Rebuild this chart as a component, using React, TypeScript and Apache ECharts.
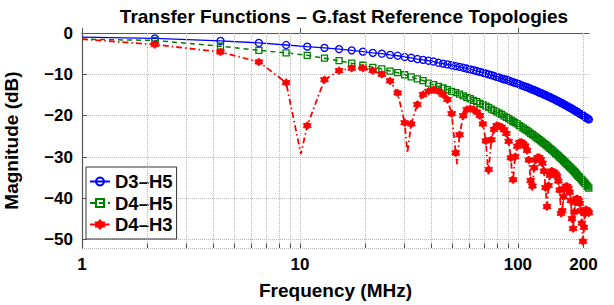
import React, { useEffect, useRef } from "react";
import * as echarts from "echarts";

// Frequencies (MHz) of the plotted markers
const freqMHz = [
  2.16, 4.32, 6.48, 8.64, 10.8, 12.96, 15.12, 17.28, 19.44, 21.6,
  23.76, 25.92, 28.08, 30.24, 32.4, 34.56, 36.72, 38.88, 41.04, 43.2,
  45.36, 47.52, 49.68, 51.84, 54.0, 56.16, 58.32, 60.48, 62.64, 64.8,
  66.96, 69.12, 71.28, 73.44, 75.6, 77.76, 79.92, 82.08, 84.24, 86.4,
  88.56, 90.72, 92.88, 95.04, 97.2, 99.36, 101.52, 103.68, 105.84, 108.0,
  110.16, 112.32, 114.48, 116.64, 118.8, 120.96, 123.12, 125.28, 127.44, 129.6,
  131.76, 133.92, 136.08, 138.24, 140.4, 142.56, 144.72, 146.88, 149.04, 151.2,
  153.36, 155.52, 157.68, 159.84, 162.0, 164.16, 166.32, 168.48, 170.64, 172.8,
  174.96, 177.12, 179.28, 181.44, 183.6, 185.76, 187.92, 190.08, 192.24, 194.4,
  196.56, 198.72, 200.88, 203.04, 205.2, 207.36, 209.52, 211.68,
];

// Value at the left edge (1 MHz), drawn without a marker
const startFreq = 1;
const d3h5Start = -1.0;
const d4h5Start = -1.5;
const d4h3Start = -1.5;

const d3h5 = [
  -1.3, -1.9, -2.4, -2.9, -3.3, -3.6, -3.9, -4.2, -4.5, -4.8,
  -5.0, -5.3, -5.5, -5.8, -6.0, -6.3, -6.5, -6.7, -6.9, -7.2,
  -7.4, -7.6, -7.8, -8.0, -8.2, -8.4, -8.6, -8.8, -9.0, -9.2,
  -9.4, -9.6, -9.8, -10.0, -10.2, -10.4, -10.6, -10.8, -11.0, -11.2,
  -11.3, -11.5, -11.7, -11.9, -12.1, -12.2, -12.4, -12.6, -12.8, -13.0,
  -13.1, -13.3, -13.5, -13.7, -13.8, -14.0, -14.2, -14.4, -14.5, -14.7,
  -14.9, -15.0, -15.2, -15.4, -15.5, -15.7, -15.9, -16.0, -16.2, -16.4,
  -16.5, -16.7, -16.9, -17.0, -17.2, -17.4, -17.5, -17.7, -17.9, -18.0,
  -18.2, -18.3, -18.5, -18.7, -18.8, -19.0, -19.1, -19.3, -19.5, -19.6,
  -19.8, -19.9, -20.1, -20.3, -20.4, -20.6, -20.7, -20.9,
];

const d4h5 = [
  -1.8, -3.2, -4.2, -4.8, -5.4, -6.1, -6.7, -7.3, -7.8, -8.3,
  -8.7, -9.2, -9.6, -10.1, -10.6, -11.1, -11.5, -12.1, -12.5, -12.9,
  -13.3, -13.7, -14.1, -14.4, -14.8, -15.2, -15.6, -15.9, -16.3, -16.6,
  -17.0, -17.3, -17.7, -18.0, -18.4, -18.7, -19.1, -19.4, -19.7, -20.1,
  -20.4, -20.7, -21.1, -21.4, -21.7, -22.0, -22.4, -22.7, -23.0, -23.3,
  -23.6, -23.9, -24.3, -24.6, -24.9, -25.2, -25.5, -25.8, -26.1, -26.4,
  -26.7, -27.0, -27.3, -27.6, -27.9, -28.2, -28.5, -28.8, -29.1, -29.4,
  -29.7, -30.0, -30.3, -30.6, -30.9, -31.2, -31.5, -31.8, -32.1, -32.4,
  -32.6, -32.9, -33.2, -33.5, -33.8, -34.1, -34.4, -34.7, -34.9, -35.2,
  -35.5, -35.8, -36.1, -36.3, -36.6, -36.9, -37.2, -37.5,
];

const d4h3 = [
  -2.8, -4.6, -7.0, -12.0, -22.4, -11.3, -9.1, -8.5, -8.5, -9.1,
  -10.0, -11.6, -14.5, -21.7, -22.0, -17.3, -14.9, -14.1, -13.7, -14.1,
  -14.9, -16.1, -19.5, -29.0, -24.6, -20.0, -18.5, -18.3, -18.5, -19.1,
  -20.0, -22.0, -26.1, -33.0, -25.8, -23.3, -22.4, -22.5, -22.8, -23.4,
  -24.3, -26.2, -30.2, -35.5, -29.9, -27.4, -26.5, -26.4, -26.8, -27.3,
  -28.4, -30.7, -35.7, -37.0, -32.6, -30.7, -30.1, -30.1, -30.6, -31.5,
  -33.4, -37.4, -42.0, -36.9, -34.4, -33.4, -33.5, -33.8, -34.1, -34.6,
  -35.8, -38.0, -43.6, -43.0, -39.6, -37.6, -37.1, -37.1, -37.6, -38.5,
  -40.5, -44.9, -47.3, -43.3, -41.0, -40.1, -40.1, -40.5, -41.2, -43.0,
  -46.0, -50.4, -47.0, -43.7, -42.7, -42.9, -43.2, -43.5,
];

// Notch minima of D4-H3 that fall between markers (line only)
const d4h3NotchFreq = [10.1, 31.1, 52.6, 73.2, 94.8, 115.9, 158.9];
const d4h3NotchVal = [-29.3, -29.0, -31.7, -34.2, -36.4, -38.3, -44.4];

// Vertical grid lines / minor ticks of the log axis, and the extra "200" label
const xGridLines = [2, 3, 4, 5, 6, 7, 8, 9, 10, 20, 30, 40, 50, 60, 70, 80, 90, 100, 200];
const xExtraLabel = 200;

const FONT = "'Liberation Sans', Arial, Helvetica, sans-serif";
const ASTERISK =
  "path://M0,-10L3.3,-5.7L8.66,-5L6.6,0L8.66,5L3.3,5.7L0,10L-3.3,5.7L-8.66,5L-6.6,0L-8.66,-5L-3.3,-5.7Z";

function buildData(vals: number[], startVal: number, extraF: number[] = [], extraV: number[] = []) {
  const pts: any[] = [{ value: [startFreq, startVal], symbol: "none" }];
  freqMHz.forEach((f, i) => pts.push({ value: [f, vals[i]] }));
  extraF.forEach((f, i) => pts.push({ value: [f, extraV[i]], symbol: "none" }));
  pts.sort((a, b) => a.value[0] - b.value[0]);
  return pts;
}

export default function App() {
  const ref = useRef<HTMLDivElement>(null);
  useEffect(() => {
    if (!ref.current) return;
    const chart = echarts.init(ref.current, null, { renderer: "svg" });
    const bold = { fontFamily: FONT, fontWeight: "bold" as const, color: "#000" };
    const Y_MIN = -52;
    chart.setOption({
      animation: false,
      backgroundColor: "#fff",
      title: {
        text: "Transfer Functions – G.fast Reference Topologies",
        left: 339,
        top: 2,
        textAlign: "center",
        textStyle: { ...bold, fontSize: 19 },
      },
      grid: { left: 82, right: 25, top: 33, bottom: 57, outerBoundsMode: "none", containLabel: false },
      legend: {
        orient: "vertical",
        left: 86,
        top: 167,
        data: ["D3–H5", "D4–H5", "D4–H3"],
        backgroundColor: "#fff",
        borderColor: "#333",
        borderWidth: 1,
        borderRadius: 0,
        padding: [5, 4, 5, 3],
        itemGap: 2.5,
        itemWidth: 20,
        itemHeight: 10,
        textStyle: { ...bold, fontSize: 18.5 },
      },
      xAxis: {
        type: "log",
        logBase: 10,
        min: 1,
        max: 212,
        name: "Frequency (MHz)",
        nameLocation: "middle",
        nameGap: 33,
        nameTextStyle: { ...bold, fontSize: 19 },
        axisLine: { show: true, lineStyle: { color: "#555", width: 1.2 } },
        axisTick: { show: true, inside: true, length: 5, lineStyle: { color: "#555" } },
        axisLabel: {
          ...bold,
          fontSize: 17,
          margin: 8,
          showMaxLabel: false,
          formatter: (v: number) => String(Math.round(v)),
        },
        splitLine: { show: false },
      },
      yAxis: {
        type: "value",
        min: Y_MIN,
        max: 0,
        name: "Magnitude (dB)",
        nameLocation: "middle",
        nameGap: 61,
        nameTextStyle: { ...bold, fontSize: 19 },
        axisLine: { show: true, lineStyle: { color: "#555", width: 1.2 } },
        axisTick: { show: true, inside: true, length: 5, lineStyle: { color: "#555" } },
        axisLabel: {
          ...bold,
          fontSize: 17,
          margin: 9,
          showMinLabel: false,
          formatter: (v: number) =>
            v % 10 !== 0 ? "" : v === 0 ? "0" : "\u2212" + Math.abs(v),
        },
        splitLine: { show: true, lineStyle: { color: "#b8b8b8", type: "dotted", width: 1 } },
      },
      series: [
        {
          name: "grid",
          type: "line",
          data: [[startFreq, 0]],
          symbol: "none",
          lineStyle: { opacity: 0 },
          z: 1,
          silent: true,
          markLine: {
            silent: true,
            symbol: ["none", "none"],
            animation: false,
            lineStyle: { color: "#b8b8b8", type: "dotted", width: 1 },
            label: { show: false },
            emphasis: { disabled: true },
            data: [
              ...xGridLines.map((v) =>
                v === xExtraLabel
                  ? {
                      xAxis: v,
                      label: {
                        show: true,
                        position: "start",
                        formatter: String(xExtraLabel),
                        ...bold,
                        fontSize: 17,
                        distance: 8,
                      },
                    }
                  : { xAxis: v }
              ),
              ...xGridLines.map((v) => [
                { coord: [v, Y_MIN], lineStyle: { color: "#555", type: "solid", width: 1 } },
                { coord: [v, Y_MIN + 1.1] },
              ]),
            ],
          },
        },
        {
          name: "D3–H5",
          type: "line",
          z: 3,
          data: buildData(d3h5, d3h5Start),
          symbol: "circle",
          symbolSize: 7,
          itemStyle: { color: "rgba(0,0,0,0)", borderColor: "#0000ff", borderWidth: 1.3 },
          lineStyle: { color: "#0000ff", width: 1.3 },
        },
        {
          name: "D4–H5",
          type: "line",
          z: 4,
          data: buildData(d4h5, d4h5Start),
          symbol: "rect",
          symbolSize: 6,
          itemStyle: { color: "rgba(0,0,0,0)", borderColor: "#008000", borderWidth: 1.3 },
          lineStyle: { color: "#008000", width: 1.5, type: [5, 4] },
        },
        {
          name: "D4–H3",
          type: "line",
          z: 5,
          data: buildData(d4h3, d4h3Start, d4h3NotchFreq, d4h3NotchVal),
          symbol: ASTERISK,
          symbolSize: 8,
          itemStyle: { color: "#ff0000", borderColor: "#ff0000", borderWidth: 0.8 },
          lineStyle: { color: "#ff0000", width: 1.8, type: [6, 3, 1.5, 3] },
        },
      ],
    });
    return () => chart.dispose();
  }, []);
  return (
    <div
      ref={ref}
      style={{ position: "fixed", left: 0, top: 0, width: 614, height: 305, background: "#fff" }}
    />
  );
}
